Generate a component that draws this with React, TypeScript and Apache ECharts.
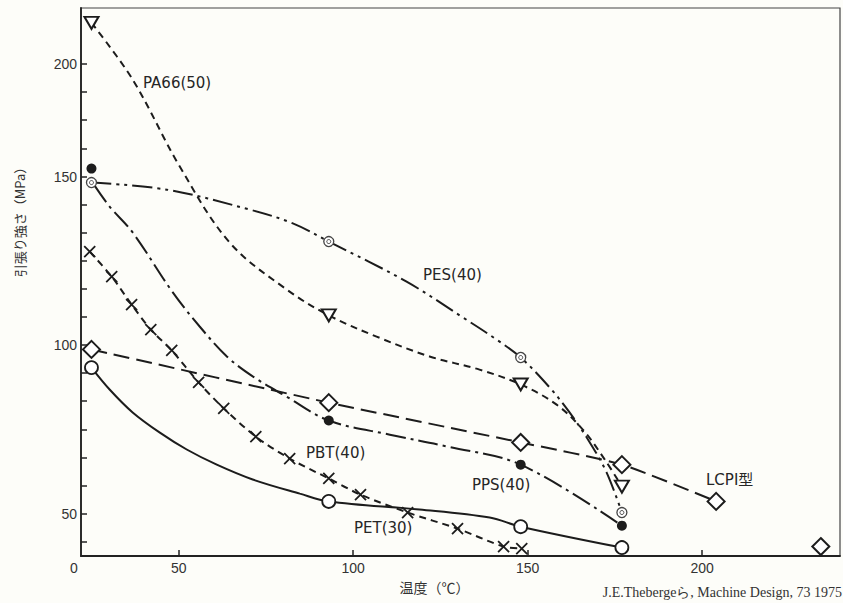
import React, { useEffect, useRef } from "react";
import * as echarts from "echarts";

// ---- measured points (temperature °C, tensile strength MPa) ----
const temps = [25, 93, 148, 177];
const pa66 = [218, 108.8, 88.3, 58.0];
const pes = [148.2, 130.7, 96.3, 50.3];
const pps = [153.5, 77.6, 64.5, 46.4];
const pet = [93.3, 53.6, 46.1, 39.9];
const lcpTemps = [25, 93, 148, 177, 204, 234];
const lcp = [98.7, 82.9, 71.1, 64.5, 53.6, 40.2];
const pbtTemps = [24.5, 30.8, 36.5, 42.0, 48.0, 55.7, 62.9, 72.1, 81.8, 93.0, 102.1, 115.6, 129.9, 143.1, 148.3];
const pbt = [127.7, 120.3, 112.0, 104.6, 98.4, 88.9, 81.2, 72.8, 66.3, 60.4, 55.6, 50.3, 45.5, 40.2, 39.6];

// ---- hand-drawn fitted curves ----
const pa66CurveT = [25, 36.8, 50.3, 64.6, 80.9, 93, 106.7, 121.9, 136.2, 148, 158.3, 165.8, 172.1, 177];
const pa66CurveV = [218, 192.9, 154.4, 130.4, 116.5, 108.8, 102.5, 96.6, 92.7, 88.3, 82.3, 74.9, 66.0, 58.0];
const pesCurveT = [25, 46.6, 70.3, 82.7, 93, 115.3, 131.4, 141.1, 148, 156.3, 162.0, 167.8, 172.6, 177];
const pesCurveV = [148.2, 146.1, 140.2, 136.1, 130.7, 118.8, 108.2, 101.6, 96.3, 87.4, 80.0, 71.1, 62.2, 50.3];
const ppsCurveT = [25.9, 30.2, 36.8, 48.3, 56.0, 63.8, 71.2, 80.9, 93, 110.5, 126.8, 148, 177];
const ppsCurveV = [147.3, 141.1, 133.4, 115.6, 105.5, 96.6, 90.7, 84.7, 77.6, 73.4, 69.9, 64.5, 46.4];
const petCurveT = [25, 30.2, 36.8, 44.6, 52.3, 60.9, 71.2, 84.7, 93, 119, 139.1, 148, 177];
const petCurveV = [93.3, 86.8, 80.0, 74.0, 69.0, 64.5, 60.1, 55.9, 53.6, 51.2, 48.8, 46.1, 39.9];

const xTickValues = [50, 100, 150, 200];
const yLabelValues = [50, 100, 150, 200];

// The original figure's strength axis is compressed above 150 MPa
const UPPER_K = 0.6706;
const toU = (m: number) => (m <= 150 ? m : 150 + (m - 150) * UPPER_K);
const fromU = (u: number) => (u <= 150 ? u : 150 + (u - 150) / UPPER_K);

const INK = "#1c1c1c";
const FONT_LBL = "'DejaVu Sans', 'Noto Sans CJK JP', sans-serif";
const FONT_TICK = "'Liberation Sans', sans-serif";

const yTicks: number[] = [];
for (let k = -1; k <= 12; k++) yTicks.push(50 + (k * 50) / 6);
for (let j = 1; j <= 4; j++) yTicks.push(150 + (j * (toU(200) - 150)) / 4);

const pts = (xs: number[], ys: number[]) => xs.map((x, i) => [x, toU(ys[i])]);

function curve(name: string, data: number[][], dash: any, smooth = 0.35) {
  return {
    name,
    type: "line",
    data,
    smooth,
    symbol: "none",
    lineStyle: { color: INK, width: 2, type: dash, cap: "butt" },
    z: 2,
  };
}

function marks(name: string, data: number[][], symbol: string, symbolSize: any, item: any, extra: any = {}) {
  return {
    name,
    type: "scatter",
    data,
    symbol,
    symbolSize,
    itemStyle: { opacity: 1, ...item },
    z: 4,
    ...extra,
  };
}

const labelText = (text: string, x: number, y: number) => ({
  type: "text",
  x,
  y,
  style: {
    text,
    fill: "#262626",
    font: `15px ${FONT_LBL}`,
    align: "left",
    verticalAlign: "middle",
  },
  z: 10,
});

export default function App() {
  const ref = useRef<HTMLDivElement>(null);
  useEffect(() => {
    const chart = echarts.init(ref.current as HTMLDivElement, null, { renderer: "svg" });
    const hollow = { color: "#fff", borderColor: INK, borderWidth: 2 };
    const option: any = {
      animation: false,
      backgroundColor: "#fdfdf9",
      grid: {
        left: 81,
        right: 3,
        top: 8,
        bottom: 47,
        show: true,
        borderColor: "#444",
        borderWidth: 1.2,
        backgroundColor: "transparent",
      },
      xAxis: {
        type: "value",
        min: 22,
        max: 239.5,
        axisLine: { show: true, onZero: false, lineStyle: { color: "#222", width: 1.8 } },
        axisTick: {
          show: true,
          inside: true,
          length: 6,
          customValues: xTickValues,
          lineStyle: { color: "#222", width: 1.5 },
        },
        axisLabel: {
          customValues: [22, ...xTickValues],
          formatter: (v: number) => (v < 30 ? "{z|0}" : String(v)),
          margin: 5,
          color: "#333",
          fontSize: 14,
          fontFamily: FONT_TICK,
          rich: { z: { padding: [0, 14, 0, 0], fontSize: 14, fontFamily: FONT_TICK, color: "#333" } },
        },
        splitLine: { show: false },
        name: "温度（℃）",
        nameLocation: "middle",
        nameGap: 20,
        nameTextStyle: {
          fontSize: 14,
          color: "#333",
          fontFamily: "'Noto Sans CJK JP', sans-serif",
          padding: [0, 52, 0, 0],
        },
      },
      yAxis: {
        type: "value",
        min: 37.4,
        max: 200,
        axisLine: { show: true, onZero: false, lineStyle: { color: "#222", width: 1.8 } },
        axisTick: {
          show: true,
          inside: true,
          length: 6,
          customValues: yTicks,
          lineStyle: { color: "#222", width: 1.5 },
        },
        axisLabel: {
          customValues: yLabelValues.map(toU),
          formatter: (v: number) => String(Math.round(fromU(v))),
          margin: 4,
          color: "#333",
          fontSize: 14,
          fontFamily: FONT_TICK,
        },
        splitLine: { show: false },
      },
      series: [
        curve("PA66(50)", pts(pa66CurveT, pa66CurveV), [7, 5]),
        curve("PES(40)", pts(pesCurveT, pesCurveV), [20, 5, 3, 5, 3, 5]),
        curve("PPS(40)", pts(ppsCurveT, ppsCurveV), [20, 5, 3, 5]),
        curve("LCPI型", pts(lcpTemps.slice(0, 5), lcp.slice(0, 5)), [16, 7], 0.2),
        curve("PET(30)", pts(petCurveT, petCurveV), "solid"),
        curve("PBT(40)", pts(pbtTemps, pbt), [7, 5], 0.3),
        marks("PA66(50) pts", pts(temps, pa66), "triangle", [14, 12], hollow, { symbolRotate: 180 }),
        marks("PES(40) pts", pts(temps, pes), "circle", 10, { color: "#fff", borderColor: "#444", borderWidth: 1.3 }),
        marks("PES(40) inner", pts(temps, pes), "circle", 4, { color: "#fff", borderColor: "#444", borderWidth: 1 }, { z: 5 }),
        marks("PPS(40) pts", pts(temps, pps), "circle", 10, { color: INK }),
        marks("LCPI型 pts", pts(lcpTemps, lcp), "diamond", [17, 17], hollow),
        marks("PET(30) pts", pts(temps, pet), "circle", 13, { color: "#fff", borderColor: INK, borderWidth: 1.8 }),
        marks("PBT(40) pts", pts(pbtTemps, pbt), "path://M0,0L10,10M10,0L0,10", 11, {
          color: "transparent",
          borderColor: INK,
          borderWidth: 1.8,
        }),
      ],
      graphic: [
        labelText("PA66(50)", 143, 83),
        labelText("PES(40)", 423, 275),
        labelText("PBT(40)", 306, 453),
        labelText("PPS(40)", 472, 485),
        labelText("PET(30)", 354, 528),
        labelText("LCPI型", 706, 480),
        {
          type: "text",
          x: 19,
          y: 219,
          rotation: Math.PI / 2,
          style: {
            text: "引張り強さ（MPa）",
            fill: "#333",
            font: "13px 'Noto Sans CJK JP', sans-serif",
            align: "center",
            verticalAlign: "middle",
          },
        },
        {
          type: "text",
          x: 842,
          y: 592,
          style: {
            text: "J.E.Thebergeら, Machine Design, 73 1975",
            fill: "#333",
            font: "14px 'Liberation Serif', serif",
            align: "right",
            verticalAlign: "middle",
          },
        },
      ],
    };
    chart.setOption(option);
    return () => chart.dispose();
  }, []);
  return (
    <div
      ref={ref}
      style={{ position: "fixed", left: 0, top: 0, width: 843, height: 603, background: "#fdfdf9" }}
    />
  );
}
